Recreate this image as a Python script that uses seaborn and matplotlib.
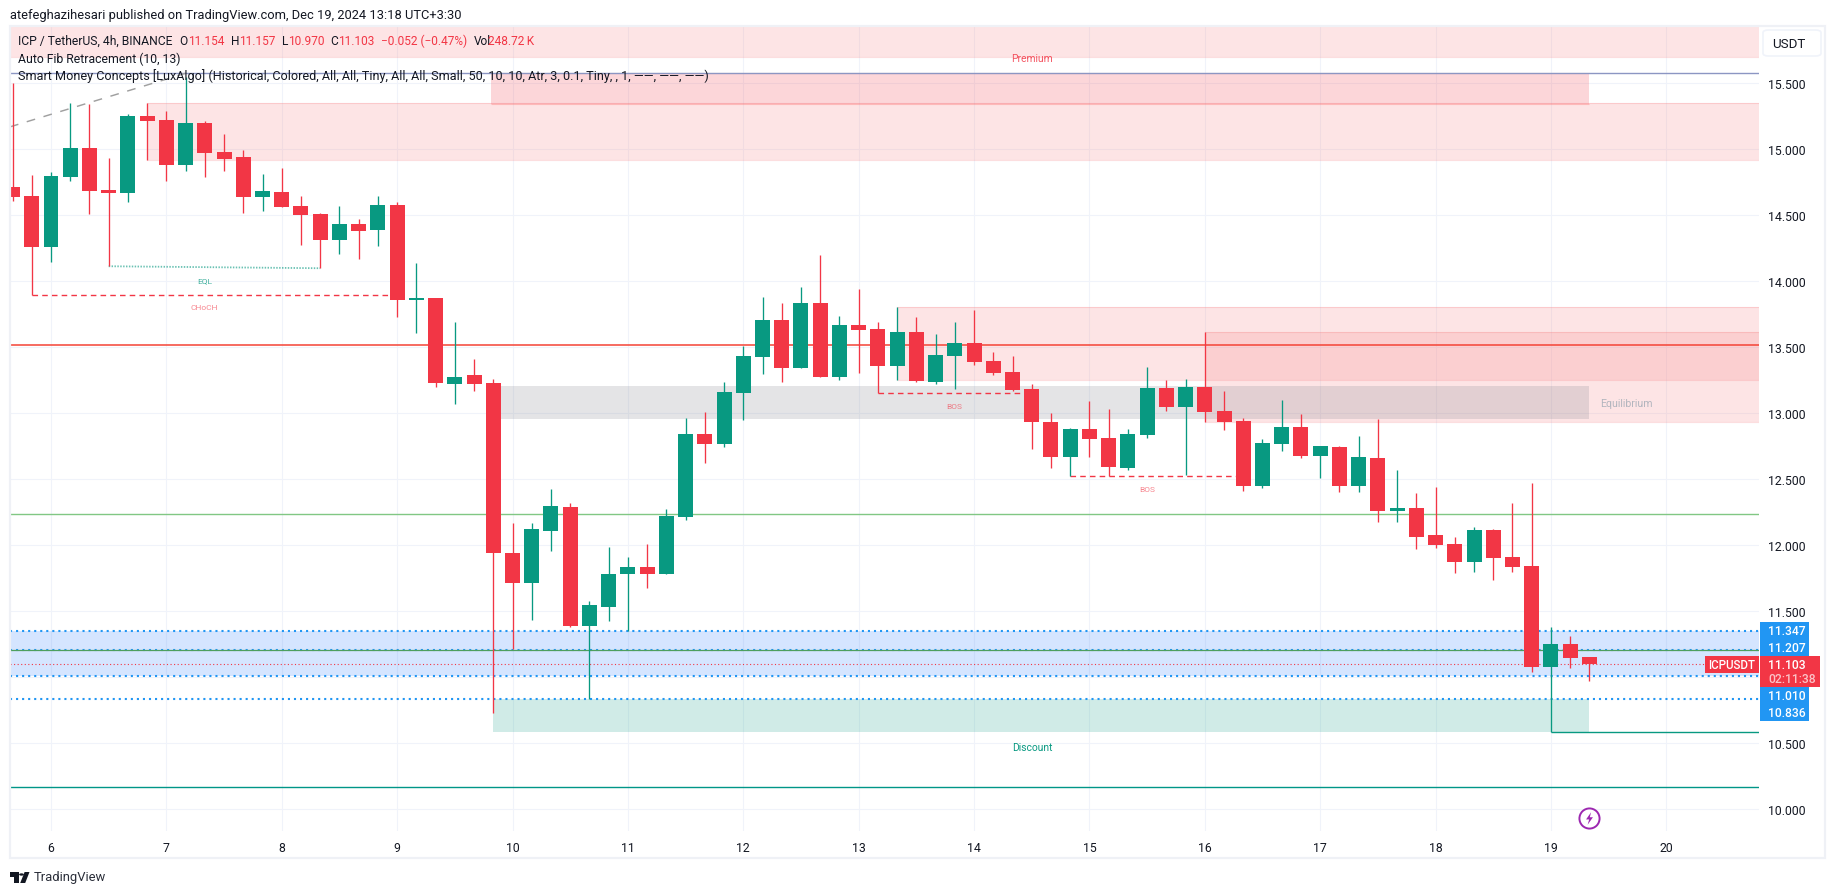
import matplotlib
matplotlib.use("Agg")
import matplotlib.pyplot as plt
from matplotlib.patches import Rectangle, FancyBboxPatch, Polygon, Circle
import pandas as pd
import seaborn as sns

# 4h candles, the first one sits two bars left of the "6" tick
first_bar = -2
highs = [15.503, 14.806, 14.826, 15.351, 15.344, 14.934, 15.268, 15.351, 15.29, 15.546, 15.215, 15.116, 14.995, 14.813, 14.859, 14.647,
         14.518, 14.571, 14.472, 14.647, 14.601, 14.139, 13.874, 13.69, 13.411, 13.26, 12.169, 12.169, 12.427, 12.32, 11.578, 11.987,
         11.912, 12.01, 12.275, 12.965, 13.01, 13.237, 13.51, 13.881, 13.835, 13.957, 14.199, 13.737, 13.941, 13.691, 13.805, 13.729,
         13.601, 13.691, 13.782, 13.464, 13.434, 13.222, 13.002, 12.888, 13.093, 13.032, 12.881, 13.351, 13.252, 13.26, 13.616, 13.169,
         12.964, 12.805, 13.101, 12.994, 12.752, 12.752, 12.828, 12.957, 12.57, 12.396, 12.441, 12.063, 12.138, 12.123, 12.32, 12.472, 11.381, 11.313, 11.157]
lows = [14.609, 13.90, 14.147, 14.76, 14.51, 14.114, 14.60, 14.92, 14.76, 14.836, 14.79, 14.836, 14.518, 14.533, 14.563, 14.275,
        14.099, 14.207, 14.169, 14.268, 13.73, 13.609, 13.2, 13.07, 13.169, 10.73, 11.215, 11.434, 11.957, 11.381, 10.836, 11.427,
        11.351, 11.677, 11.783, 12.192, 12.623, 12.744, 12.949, 13.298, 13.237, 13.343, 13.275, 13.252, 13.305, 13.151, 13.252, 13.237,
        13.222, 13.184, 13.366, 13.29, 13.169, 12.729, 12.585, 12.522, 12.669, 12.525, 12.57, 12.813, 13.017, 12.532, 12.934, 12.873,
        12.411, 12.434, 12.714, 12.661, 12.51, 12.404, 12.404, 12.176, 12.176, 11.972, 11.979, 11.79, 11.797, 11.737, 11.797, 11.04, 10.583, 11.07, 10.97]
body_top = [14.715, 14.647, 14.798, 15.01, 15.01, 14.692, 15.253, 15.253, 15.222, 15.2, 15.2, 14.98, 14.942, 14.684, 14.677, 14.571,
            14.51, 14.434, 14.434, 14.578, 14.578, 13.874, 13.874, 13.275, 13.29, 13.23, 11.942, 12.124, 12.298, 12.29, 11.548, 11.783,
            11.836, 11.836, 12.222, 12.843, 12.843, 13.161, 13.434, 13.707, 13.707, 13.835, 13.835, 13.669, 13.669, 13.638, 13.616, 13.616,
            13.441, 13.532, 13.532, 13.396, 13.313, 13.184, 12.934, 12.881, 12.881, 12.813, 12.843, 13.191, 13.191, 13.199, 13.199, 13.017,
            12.941, 12.775, 12.896, 12.896, 12.752, 12.744, 12.669, 12.661, 12.282, 12.282, 12.078, 12.01, 12.116, 12.116, 11.911, 11.843, 11.252, 11.252, 11.154]
body_bottom = [14.639, 14.26, 14.26, 14.79, 14.684, 14.669, 14.669, 15.215, 14.88, 14.88, 14.972, 14.924, 14.639, 14.639, 14.563, 14.503,
               14.313, 14.313, 14.381, 14.389, 13.859, 13.859, 13.23, 13.222, 13.222, 11.942, 11.714, 11.714, 12.108, 11.389, 11.389, 11.533,
               11.783, 11.783, 11.783, 12.214, 12.767, 12.767, 13.154, 13.426, 13.343, 13.343, 13.275, 13.275, 13.631, 13.358, 13.358, 13.244,
               13.237, 13.434, 13.388, 13.305, 13.176, 12.934, 12.669, 12.669, 12.805, 12.593, 12.585, 12.835, 13.048, 13.048, 13.01, 12.934,
               12.449, 12.449, 12.767, 12.676, 12.676, 12.449, 12.449, 12.26, 12.26, 12.063, 12.002, 11.873, 11.873, 11.903, 11.835, 11.078, 11.078, 11.146, 11.103]
is_up = [0, 0, 1, 1, 0, 0, 1, 0, 0, 1, 0, 0, 0, 1, 0, 0,
         0, 1, 0, 1, 0, 1, 0, 1, 0, 0, 0, 1, 1, 0, 1, 1,
         1, 0, 1, 1, 0, 1, 1, 1, 0, 1, 0, 1, 0, 0, 1, 0,
         1, 1, 0, 0, 0, 0, 0, 1, 0, 0, 1, 1, 0, 1, 0, 0,
         0, 1, 1, 0, 1, 0, 1, 0, 1, 0, 0, 0, 1, 0, 0, 0, 1, 0, 0]

day_labels = [6, 7, 8, 9, 10, 11, 12, 13, 14, 15, 16, 17, 18, 19, 20]
price_ticks = [10.0, 10.5, 11.0, 11.5, 12.0, 12.5, 13.0, 13.5, 14.0, 14.5, 15.0, 15.5]

RED = "#f23645"
GREEN = "#089981"
BLUE = "#2196f3"
W, H = 1835, 895
PANE_L, PANE_R, PANE_T, PANE_B = 10, 1759, 27, 832

sns.set_theme(style="white")
plt.rcParams["font.family"] = ["Roboto", "DejaVu Sans"]

df = pd.DataFrame({"high": highs, "low": lows, "top": body_top, "bottom": body_bottom, "up": is_up})
df["bar"] = range(first_bar, first_bar + len(df))
df["dir"] = df["up"].map({1: "up", 0: "down"})
df["height"] = df["top"] - df["bottom"]
wicks = df.melt(id_vars=["bar", "dir"], value_vars=["high", "low"], value_name="price")

fig = plt.figure(figsize=(W / 100, H / 100), dpi=100, facecolor="white")
ax = fig.add_axes([PANE_L / W, 1 - PANE_B / H, (PANE_R - PANE_L) / W, (PANE_B - PANE_T) / H])


def px_text(x, y, s, **kw):
    kw.setdefault("va", "center")
    kw.setdefault("color", "#131722")
    kw.setdefault("fontsize", 8.7)
    return fig.text(x / W, 1 - y / H, s, **kw)


def box(x0, x1, p0, p1, color, alpha, edge=None, edge_alpha=0.25):
    ax.add_patch(Rectangle((x0, p0), x1 - x0, p1 - p0, fc=color, alpha=alpha, lw=0, zorder=1))
    if edge:
        ax.hlines([p0, p1], x0, x1, color=edge, alpha=edge_alpha, lw=0.8, zorder=1.1)


XMIN = (PANE_L - 51) / 19.23
XMAX = (PANE_R - 51) / 19.23

# zones, in bars and prices
box(XMIN, XMAX, 15.702, 16.2, "#f77c80", 0.2, "#f77c80")
box(5.0, XMAX, 14.92, 15.35, "#f77c80", 0.2, "#f77c80")
box(XMIN + 25.0, 80.0, 15.34, 15.576, RED, 0.2, "#ff6a6a", 0.35)
box(44.0, XMAX, 13.255, 13.803, "#f77c80", 0.2, "#f77c80")
box(60.0, XMAX, 12.936, 13.616, "#f77c80", 0.2, "#f77c80")
box(23.0, 80.0, 12.957, 13.207, "#787b86", 0.2)
box(23.0, 80.0, 10.586, 10.836, GREEN, 0.19)
box(XMIN, XMAX, 11.01, 11.347, "#2f7dff", 0.2)

# level lines
ax.axhline(15.576, color="#8c96c3", lw=1.0, zorder=1.5)
ax.axhline(13.515, color="#f44336", lw=1.1, zorder=1.5)
ax.axhline(12.235, color="#81c784", lw=1.0, zorder=1.5)
ax.axhline(11.204, color="#4e9f5f", lw=0.9, zorder=1.65)
ax.axhline(10.166, color="#009688", lw=1.0, zorder=1.5)
ax.hlines(10.583, 78, XMAX, color=GREEN, lw=1.0, zorder=1.5)
for lvl in [11.347, 11.207, 11.01, 10.836]:
    ax.axhline(lvl, color=BLUE, lw=1.5, ls=(0, (1, 1.9)), zorder=1.6)
ax.hlines(11.103, XMIN, 86.0, color=RED, lw=0.8, ls=(0, (1, 2.2)), zorder=1.6)

ax.plot([XMIN, 7.0], [15.17, 15.576], color="#a0a0a0", lw=1.05, ls=(0, (6, 6)), zorder=1.6)
ax.plot([3, 14], [14.114, 14.099], color=GREEN, alpha=0.6, lw=1.3, ls=(0, (0.8, 0.8)), zorder=1.6)
ax.hlines(13.90, -1, 18, color=RED, lw=1.0, ls=(0, (4, 3)), zorder=1.6)
ax.hlines(13.151, 43, 51, color=RED, lw=1.0, ls=(0, (4, 3)), zorder=1.6)
ax.hlines(12.522, 53, 62, color=RED, lw=1.0, ls=(0, (4, 3)), zorder=1.6)

# candles
sns.lineplot(data=wicks, x="bar", y="price", units="bar", hue="dir", estimator=None,
             palette={"up": GREEN, "down": RED}, lw=0.95, legend=False, ax=ax, zorder=3,
             solid_capstyle="butt")
for d, colr in [("up", GREEN), ("down", RED)]:
    part = df[df["dir"] == d]
    sns.barplot(data=part, x="bar", y="height", bottom=part["bottom"].values, native_scale=True,
                color=colr, saturation=1, width=0.78, errorbar=None, lw=0, ax=ax, zorder=3.2)

# replay marker with its bolt
bolt = [(0.25, 1), (-0.55, -0.15), (-0.05, -0.15), (-0.3, -1), (0.55, 0.2), (0.05, 0.2)]
ax.plot([80], [9.934], "o", ms=14.5, mfc="white", mec="#9c27b0", mew=1.4, zorder=4)
ax.plot([80], [9.934], marker=bolt, ms=9, mfc="#9c27b0", mec="none", zorder=5)

ax.set_xlim(XMIN, XMAX)
ax.set_ylim(10 + (810.3 - PANE_B) / 132, 10 + (810.3 - PANE_T) / 132)
ax.set_xlabel("")
ax.set_ylabel("")
ax.set_xticks([(d - 6) * 6 for d in day_labels], labels=[str(d) for d in day_labels])
ax.yaxis.tick_right()
ax.set_yticks(price_ticks, labels=["" if p == 11.0 else f"{p:.3f}" for p in price_ticks])
ax.tick_params(axis="both", length=0, labelsize=8.8, labelcolor="#131722")
ax.tick_params(axis="x", pad=7)
ax.tick_params(axis="y", pad=6.5)
ax.grid(True, color="#f0f3fa", lw=0.8)
ax.set_axisbelow(True)
for s in ax.spines.values():
    s.set_visible(False)

# frame and price scale furniture
fig.add_artist(Rectangle((9.5 / W, 1 - 859 / H), (1825 - 9.5) / W, (859 - 27) / H, transform=fig.transFigure,
                         fc="none", ec="#eff1f6", lw=1.6, zorder=0.5))
fig.add_artist(FancyBboxPatch((1763 / W, 1 - 57 / H), 58 / W, 26 / H, transform=fig.transFigure,
                              boxstyle="round,pad=0,rounding_size=0.003", fc="white", ec="#f0f3fa", lw=1.2, zorder=1))
px_text(1772, 44.5, "USDT", fontsize=9.6)


def tag(x0, x1, y0, y1, color):
    fig.add_artist(Rectangle((x0 / W, 1 - y1 / H), (x1 - x0) / W, (y1 - y0) / H, transform=fig.transFigure,
                             fc=color, lw=0, zorder=2))


tag(1760, 1809, 623, 657, BLUE)
tag(1760, 1809, 687, 722, BLUE)
tag(1760, 1820, 657, 688, RED)
tag(1705, 1759, 657, 674, RED)
for y, s in [(631.5, "11.347"), (648.5, "11.207"), (665.5, "11.103"), (696.5, "11.010"), (713.5, "10.836")]:
    px_text(1768, y, s, color="white", fontsize=8.7, fontweight="medium")
px_text(1768, 679.5, "02:11:38", color="#fbc4c8", fontsize=8.7, fontweight="medium")
px_text(1732, 665.5, "ICPUSDT", color="white", ha="center", fontsize=8.3, fontweight="medium")

# header and legend
px_text(10, 15, "atefeghazihesari published on TradingView.com, Dec 19, 2024 13:18 UTC+3:30", fontsize=9.3)
px_text(18.3, 41.7, "ICP / TetherUS, 4h, BINANCE")
for x, s, c in [(179.3, "O", "#131722"), (188, "11.154", RED), (230.7, "H", "#131722"), (239.3, "11.157", RED),
                (282, "L", "#131722"), (288, "10.970", RED), (330.7, "C", "#131722"), (338.3, "11.103", RED),
                (380.7, "\u22120.052 (\u22120.47%)", RED), (474, "Vol", "#131722"), (488.3, "248.72\u2009K", RED)]:
    px_text(x, 41.7, s, color=c, fontsize=8.6)
px_text(18.3, 59, "Auto Fib Retracement (10, 13)", fontsize=8.8)
px_text(18.3, 76, "Smart Money Concepts [LuxAlgo] (Historical, Colored, All, All, Tiny, All, All, Small, 50, 10, 10, Atr, 3, 0.1, Tiny, , 1, \u2014\u2014, \u2014\u2014, \u2014\u2014)", fontsize=9.1)

# tiny structure labels
small = dict(ha="center", fontsize=6)
px_text(204.5, 280.7, "EQL", color=GREEN, alpha=0.75, **small)
px_text(204.5, 307.7, "CHoCH", color=RED, alpha=0.6, **small)
px_text(954, 406.7, "BOS", color=RED, alpha=0.6, **small)
px_text(1147, 489.7, "BOS", color=RED, alpha=0.6, **small)
px_text(1032, 58.5, "Premium", color=RED, alpha=0.85, ha="center", fontsize=7.4)
px_text(1626, 403.7, "Equilibrium", color="#b2b5be", ha="center", fontsize=7.6)
px_text(1032, 747.6, "Discount", color=GREEN, ha="center", fontsize=7.4)

# logo
for pts in [[(10, 873), (18.5, 873), (18.5, 884), (14, 884), (14, 878), (10, 878)],
            [(29.5, 873), (25.2, 884), (20.2, 884), (24.6, 873)]]:
    fig.add_artist(Polygon([(x / W, 1 - y / H) for x, y in pts], transform=fig.transFigure, fc="#131722", lw=0))
fig.add_artist(Circle((21.5 / W, 1 - 875.5 / H), 2.4 / W, transform=fig.transFigure, fc="#131722", lw=0))
px_text(33.5, 878, "TradingView", fontsize=9.4, color="#2a2e39")

fig.savefig("out.png", dpi=100)
